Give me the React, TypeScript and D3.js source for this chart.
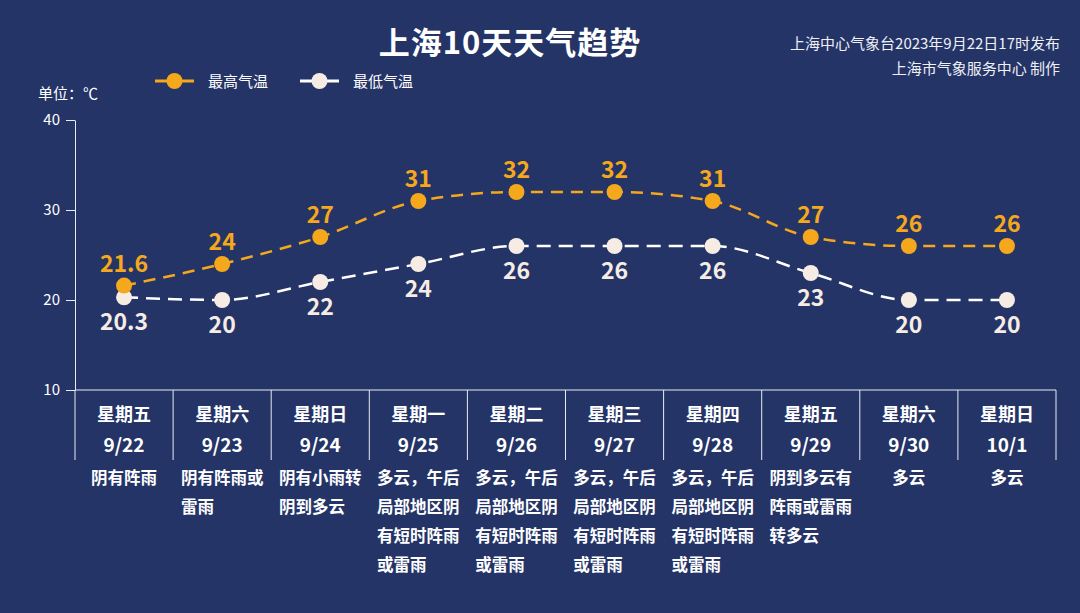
import React, { useEffect, useRef } from 'react';
import * as d3 from 'd3';

const weekdays = ['星期五', '星期六', '星期日', '星期一', '星期二', '星期三', '星期四', '星期五', '星期六', '星期日'];
const dates = ['9/22', '9/23', '9/24', '9/25', '9/26', '9/27', '9/28', '9/29', '9/30', '10/1'];
const highTemps = [21.6, 24, 27, 31, 32, 32, 31, 27, 26, 26];
const lowTemps = [20.3, 20, 22, 24, 26, 26, 26, 23, 20, 20];
const weather = [
  '阴有阵雨',
  '阴有阵雨或雷雨',
  '阴有小雨转阴到多云',
  '多云，午后局部地区阴有短时阵雨或雷雨',
  '多云，午后局部地区阴有短时阵雨或雷雨',
  '多云，午后局部地区阴有短时阵雨或雷雨',
  '多云，午后局部地区阴有短时阵雨或雷雨',
  '阴到多云有阵雨或雷雨转多云',
  '多云',
  '多云',
];
const yTicks = [10, 20, 30, 40];

const W = 1080;
const H = 613;
const BG = '#243467';
const ORANGE = '#f5a81c';
const CREAM = '#f6ece4';
const FONT = '"Noto Sans CJK SC", "Noto Sans", sans-serif';

const App: React.FC = () => {
  const svgRef = useRef<SVGSVGElement | null>(null);

  useEffect(() => {
    if (!svgRef.current) return;
    const svg = d3.select(svgRef.current);
    svg.selectAll('*').remove();

    const margin = { top: 120, right: 24, bottom: 223, left: 75 };
    const innerW = W - margin.left - margin.right;
    const innerH = H - margin.top - margin.bottom;

    svg.append('rect').attr('width', W).attr('height', H).attr('fill', BG);

    // title + notes
    svg.append('text')
      .attr('x', 510).attr('y', 54)
      .attr('text-anchor', 'middle')
      .attr('fill', '#fff')
      .attr('font-size', 31)
      .attr('font-weight', 700)
      .attr('letter-spacing', 1)
      .text('上海10天天气趋势');

    svg.append('text')
      .attr('x', 1060).attr('y', 49)
      .attr('text-anchor', 'end')
      .attr('fill', '#eef0f6')
      .attr('font-size', 15)
      .text('上海中心气象台2023年9月22日17时发布');
    svg.append('text')
      .attr('x', 1060).attr('y', 74)
      .attr('text-anchor', 'end')
      .attr('fill', '#eef0f6')
      .attr('font-size', 15)
      .text('上海市气象服务中心 制作');

    svg.append('text')
      .attr('x', 38).attr('y', 99)
      .attr('fill', '#fff')
      .attr('font-size', 15)
      .text('单位：℃');

    // legend
    const legendData = [
      { label: '最高气温', color: ORANGE, dot: ORANGE, x: 155 },
      { label: '最低气温', color: '#ffffff', dot: CREAM, x: 300 },
    ];
    legendData.forEach(d => {
      const lg = svg.append('g').attr('transform', `translate(${d.x},81)`);
      lg.append('line').attr('x1', 0).attr('x2', 39).attr('stroke', d.color).attr('stroke-width', 3);
      lg.append('circle').attr('cx', 19.5).attr('r', 8).attr('fill', d.dot);
      lg.append('text')
        .attr('x', 53).attr('y', 6)
        .attr('fill', '#fff')
        .attr('font-size', 15)
        .text(d.label);
    });

    const g = svg.append('g').attr('transform', `translate(${margin.left},${margin.top})`);

    const x = d3.scaleBand<number>()
      .domain(d3.range(dates.length))
      .range([0, innerW]);
    const cx = (i: number) => (x(i) as number) + x.bandwidth() / 2;

    const y = d3.scaleLinear().domain([10, 40]).range([innerH, 0]);

    // y axis
    const yAxis = g.append('g')
      .call(d3.axisLeft(y).tickValues(yTicks).tickSize(9).tickSizeOuter(0).tickPadding(6));
    yAxis.selectAll('path, line').attr('stroke', '#e8ebf3');
    yAxis.selectAll('text')
      .attr('fill', '#fff')
      .attr('font-size', 15)
      .attr('font-family', FONT);

    // x axis with category cells
    const cellH = 70;
    g.append('line')
      .attr('x1', 0).attr('x2', innerW)
      .attr('y1', innerH).attr('y2', innerH)
      .attr('stroke', '#e8ebf3');
    d3.range(dates.length + 1).forEach(i => {
      const bx = i < dates.length ? (x(i) as number) : innerW;
      g.append('line')
        .attr('x1', bx).attr('x2', bx)
        .attr('y1', innerH).attr('y2', innerH + cellH)
        .attr('stroke', '#e8ebf3');
    });

    const cats = g.append('g').attr('font-family', FONT);
    dates.forEach((dt, i) => {
      cats.append('text')
        .attr('x', cx(i)).attr('y', innerH + 31)
        .attr('text-anchor', 'middle')
        .attr('fill', '#fff')
        .attr('font-size', 18)
        .attr('font-weight', 700)
        .text(weekdays[i]);
      cats.append('text')
        .attr('x', cx(i)).attr('y', innerH + 62)
        .attr('text-anchor', 'middle')
        .attr('fill', '#fff')
        .attr('font-size', 19)
        .attr('font-weight', 700)
        .text(dt);

      const fs = 16.5;
      const chunks: string[] = [];
      for (let k = 0; k < weather[i].length; k += 5) chunks.push(weather[i].slice(k, k + 5));
      const maxLen = d3.max(chunks, c => c.length) || 0;
      const startX = cx(i) - (maxLen * fs) / 2;
      chunks.forEach((c, j) => {
        cats.append('text')
          .attr('x', startX).attr('y', innerH + 94 + j * 29)
          .attr('fill', '#fff')
          .attr('font-size', fs)
          .attr('font-weight', 700)
          .text(c);
      });
    });

    // lines
    const line = d3.line<number>()
      .x((_, i) => cx(i))
      .y(d => y(d))
      .curve(d3.curveMonotoneX);

    g.append('path')
      .datum(lowTemps)
      .attr('fill', 'none')
      .attr('stroke', '#ffffff')
      .attr('stroke-width', 2.5)
      .attr('stroke-dasharray', '14 8')
      .attr('d', line);

    g.append('path')
      .datum(highTemps)
      .attr('fill', 'none')
      .attr('stroke', ORANGE)
      .attr('stroke-width', 2.5)
      .attr('stroke-dasharray', '12 8')
      .attr('d', line);

    g.selectAll('.dot-low')
      .data(lowTemps)
      .enter().append('circle')
      .attr('cx', (_, i) => cx(i))
      .attr('cy', d => y(d))
      .attr('r', 8)
      .attr('fill', CREAM);

    g.selectAll('.dot-high')
      .data(highTemps)
      .enter().append('circle')
      .attr('cx', (_, i) => cx(i))
      .attr('cy', d => y(d))
      .attr('r', 8)
      .attr('fill', ORANGE);

    // value labels
    g.selectAll('.lab-high')
      .data(highTemps)
      .enter().append('text')
      .attr('x', (_, i) => cx(i))
      .attr('y', d => y(d) - 14)
      .attr('text-anchor', 'middle')
      .attr('fill', ORANGE)
      .attr('font-size', 23)
      .attr('font-weight', 700)
      .attr('font-family', FONT)
      .text(d => String(d));

    g.selectAll('.lab-low')
      .data(lowTemps)
      .enter().append('text')
      .attr('x', (_, i) => cx(i))
      .attr('y', d => y(d) + 33)
      .attr('text-anchor', 'middle')
      .attr('fill', CREAM)
      .attr('font-size', 23)
      .attr('font-weight', 700)
      .attr('font-family', FONT)
      .text(d => String(d));
  }, []);

  return (
    <div style={{ position: 'absolute', left: 0, top: 0, width: W, height: H }}>
      <svg ref={svgRef} width={W} height={H} style={{ display: 'block', fontFamily: FONT }} />
    </div>
  );
};

export default App;
